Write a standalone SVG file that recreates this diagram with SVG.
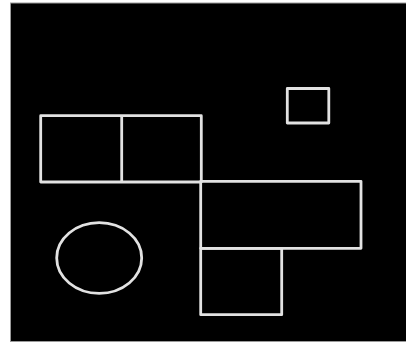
<svg xmlns="http://www.w3.org/2000/svg" width="406" height="344" viewBox="0 0 406 344">
<style>
.s{fill:none;stroke:#e2e2e2;stroke-width:2.8;stroke-linejoin:round}
</style>
<rect x="0" y="0" width="406" height="344" fill="#ffffff"/>
<rect x="10.5" y="3" width="400" height="338.5" fill="#000000" stroke="#9a9a9a" stroke-width="1"/>
<g id="left-rect"><rect class="s" x="40.7" y="115.7" width="160.6" height="66.3"/><line class="s" x1="121.7" y1="115.7" x2="121.7" y2="182"/></g>
<g id="small-square"><rect class="s" x="287.3" y="88.5" width="41.5" height="34.5"/></g>
<g id="wide-rect"><rect class="s" x="200.7" y="181.3" width="160.3" height="67"/></g>
<g id="bottom-square"><rect class="s" x="200.7" y="248.3" width="81" height="66.4"/></g>
<g id="ellipse"><ellipse class="s" cx="99.2" cy="258" rx="42.5" ry="35.3"/></g>
<g id="connectors"></g>
</svg>
